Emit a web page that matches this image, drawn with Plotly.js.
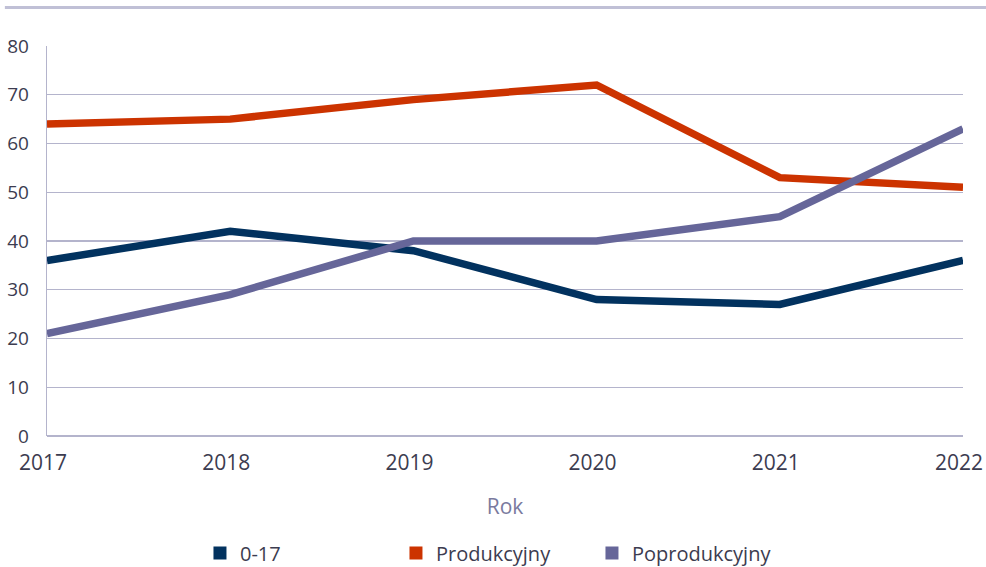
<!DOCTYPE html>
<html>
<head>
<meta charset="utf-8">
<script src="https://cdn.plot.ly/plotly-3.0.1.min.js"></script>
<style>html,body{margin:0;padding:0;background:#fff;}#chart{width:986px;height:567px;}</style>
</head>
<body>
<div id="chart"></div>
<script>
const years = [2017, 2018, 2019, 2020, 2021, 2022];
const yearLabels = ["2017", "2018", "2019", "2020", "2021", "2022"];
const seriesNames = ["0-17", "Produkcyjny", "Poprodukcyjny"];
const values017 = [36, 42, 38, 28, 27, 36];
const valuesProd = [64, 65, 69, 72, 53, 51];
const valuesPoprod = [21, 29, 40, 40, 45, 63];
const yTicks = [0, 10, 20, 30, 40, 50, 60, 70, 80];
const xTitle = "Rok";

const colors = ["#02325f", "#cc3300", "#666699"];
const allValues = [values017, valuesProd, valuesPoprod];

const traces = [];
allValues.forEach((vals, i) => {
  traces.push({
    x: years, y: vals, type: "scatter", mode: "lines",
    name: seriesNames[i], showlegend: false,
    line: {color: colors[i], width: 7.5}, hoverinfo: "x+y+name"
  });
});
allValues.forEach((vals, i) => {
  traces.push({
    x: [null], y: [null], type: "scatter", mode: "markers",
    name: seriesNames[i], showlegend: true,
    marker: {color: colors[i], symbol: "square", size: 13}
  });
});

const gridColor = "#b4b4cc";
const textColor = "#3c3c50";
const font = "Open Sans, Noto Sans, sans-serif";

const layout = {
  width: 986, height: 567,
  margin: {l: 47, r: 23, t: 46, b: 131, autoexpand: false},
  paper_bgcolor: "#fff", plot_bgcolor: "#fff",
  font: {family: font, color: textColor},
  xaxis: {
    range: [2017, 2022],
    tickvals: years, ticktext: yearLabels,
    showgrid: false, zeroline: false, showline: false,
    ticks: "", ticklabelstandoff: 12, ticklabelshift: -4,
    ticklabeloverflow: "allow",
    tickfont: {size: 21, color: textColor, family: font},
    title: {text: xTitle, font: {size: 21, color: "#7a7a9e", family: font}, standoff: 24}
  },
  yaxis: {
    range: [0, 80],
    tickvals: yTicks,
    showgrid: true, gridcolor: gridColor, gridwidth: 1.3,
    zeroline: true, zerolinecolor: gridColor, zerolinewidth: 1.3,
    showline: true, linecolor: gridColor, linewidth: 1.3,
    ticks: "", ticklabelstandoff: 13,
    tickfont: {size: 19, color: textColor, family: font}
  },
  legend: {
    orientation: "h",
    x: 0.167, xanchor: "left",
    y: -0.30, yanchor: "middle",
    entrywidth: 151, entrywidthmode: "pixels",
    font: {size: 20, color: textColor, family: font},
    itemclick: false
  },
  shapes: [{
    type: "rect", xref: "paper", yref: "paper",
    x0: -0.046, x1: 1.03, y0: 1.0949, y1: 1.1026,
    fillcolor: "#c0c0d6", line: {width: 0}, layer: "above"
  }]
};

Plotly.newPlot("chart", traces, layout, {displayModeBar: false, staticPlot: true});
</script>
</body>
</html>
